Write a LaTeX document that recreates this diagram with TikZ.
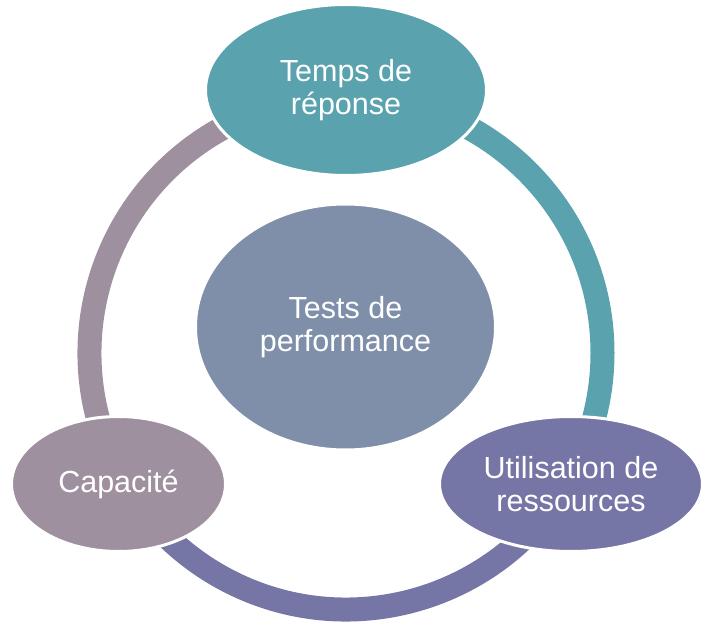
\documentclass[tikz,border=0pt]{standalone}
\usepackage{fontspec}
\setmainfont{Liberation Sans}
\usepackage[HTML]{xcolor}
\usepackage{tikz}
\usetikzlibrary{shapes.geometric}

\definecolor{tempsteal}{HTML}{5AA3AE}
\definecolor{testsblue}{HTML}{7F8FA9}
\definecolor{ressviolet}{HTML}{7676A6}
\definecolor{capamauve}{HTML}{9F90A0}

\begin{document}
\begin{tikzpicture}[x=1pt, y=1pt,
  bubble/.style={ellipse, draw=white, line width=3pt, inner sep=0pt, text=white,
    align=center, font=\fontsize{30.5}{33}\selectfont},
  ringpart/.style={line width=24pt}]
\useasboundingbox (0,0) rectangle (702,622);
% cycle ring
\coordinate (hub) at (346,269);
\draw[ringpart, tempsteal] (hub) ++(90:256.5) arc (90:-30:256.5);
\draw[ringpart, ressviolet] (hub) ++(-30:256.5) arc (-30:-150:256.5);
\draw[ringpart, capamauve] (hub) ++(210:256.5) arc (210:90:256.5);
% bubbles
\node[bubble, fill=tempsteal, minimum width=281pt, minimum height=171pt] (temps) at (346,532) {Temps de\\réponse};
\node[bubble, fill=testsblue, minimum width=300pt, minimum height=246pt] (tests) at (345.5,295) {Tests de\\performance};
\node[bubble, fill=capamauve, minimum width=214pt, minimum height=135pt] (capacite) at (118.5,138) {Capacité};
\node[bubble, fill=ressviolet, minimum width=263pt, minimum height=135pt] (ressources) at (571,138) {Utilisation de\\ressources};
\end{tikzpicture}
\end{document}
